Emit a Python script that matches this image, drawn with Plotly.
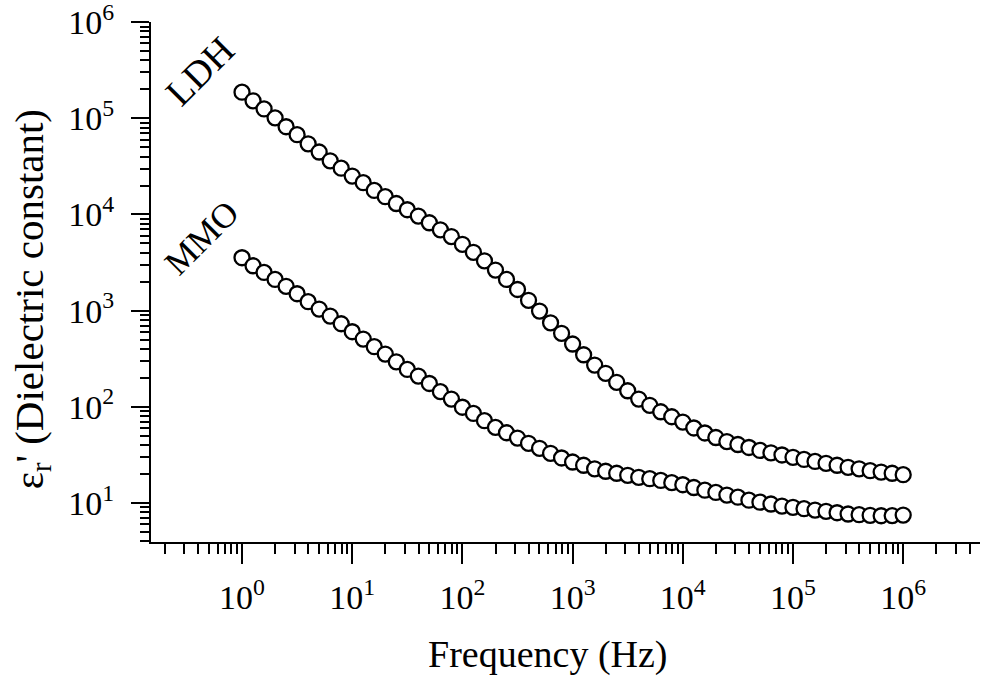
import plotly.graph_objects as go

# Frequency (Hz), 10 points per decade
freq_hz = [
    1.0, 1.259, 1.585, 1.995, 2.512, 3.162, 3.981, 5.012, 6.31, 7.943,
    10.0, 12.59, 15.85, 19.95, 25.12, 31.62, 39.81, 50.12, 63.1, 79.43,
    100.0, 125.9, 158.5, 199.5, 251.2, 316.2, 398.1, 501.2, 631.0, 794.3,
    1000.0, 1259.0, 1585.0, 1995.0, 2512.0, 3162.0, 3981.0, 5012.0, 6310.0, 7943.0,
    10000.0, 12590.0, 15850.0, 19950.0, 25120.0, 31620.0, 39810.0, 50120.0, 63100.0, 79430.0,
    100000.0, 125900.0, 158500.0, 199500.0, 251200.0, 316200.0, 398100.0, 501200.0, 631000.0, 794300.0,
    1000000.0,
]

# Dielectric constant, LDH
ldh_eps = [
    187000, 152000, 125000, 101000, 81700, 67500, 54300, 44600, 36100, 30300,
    25100, 21400, 17800, 15300, 13000, 11200, 9620, 8200, 6930, 5890,
    4890, 4040, 3300, 2640, 2110, 1660, 1280, 991, 748, 581,
    450, 348, 272, 223, 180, 147, 120.5, 103.7, 88.9, 78.9,
    69.5, 60.3, 53.5, 48.0, 43.6, 40.6, 37.8, 35.2, 33.3, 31.6,
    29.9, 28.4, 27.1, 25.9, 24.7, 23.5, 22.7, 21.7, 21.0, 20.4,
    19.7,
]

# Dielectric constant, MMO
mmo_eps = [
    3550, 2930, 2500, 2110, 1790, 1500, 1240, 1040, 879, 731,
    604, 507, 422, 354, 294, 245, 209, 175, 144, 120.5,
    99.1, 85.5, 71.8, 61.2, 53.8, 47.4, 41.8, 37.1, 32.9, 29.4,
    26.7, 24.7, 22.7, 21.4, 20.4, 19.4, 18.5, 17.9, 17.2, 16.3,
    15.5, 14.5, 13.6, 12.9, 12.1, 11.5, 10.7, 10.2, 9.77, 9.31,
    9.02, 8.73, 8.45, 8.20, 7.93, 7.69, 7.57, 7.45, 7.38, 7.40,
    7.50,
]

series_names = ["LDH", "MMO"]

x_major = [1, 10, 100, 1000, 10000, 100000, 1000000]
x_major_text = ["10<sup>0</sup>", "10<sup>1</sup>", "10<sup>2</sup>", "10<sup>3</sup>",
                "10<sup>4</sup>", "10<sup>5</sup>", "10<sup>6</sup>"]
y_major = [10, 100, 1000, 10000, 100000, 1000000]
y_major_text = ["10<sup>1</sup>", "10<sup>2</sup>", "10<sup>3</sup>",
                "10<sup>4</sup>", "10<sup>5</sup>", "10<sup>6</sup>"]

x_minor = [m / 10 for m in range(2, 10)]
for k in range(0, 6):
    x_minor += [m * 10 ** k for m in range(2, 10)]
x_minor += [2e6, 3e6, 4e6]

y_minor = [4, 5, 6, 7, 8, 9]
for k in range(1, 6):
    y_minor += [m * 10 ** k for m in range(2, 10)]

FONT = "Liberation Serif"

fig = go.Figure()
marker = dict(symbol="circle", size=15, color="white", line=dict(color="black", width=2.3))
for name, ys in zip(series_names, [ldh_eps, mmo_eps]):
    fig.add_trace(go.Scatter(x=freq_hz, y=ys, mode="markers", name=name,
                             marker=marker, showlegend=False, cliponaxis=False))

fig.update_layout(
    width=984, height=676,
    margin=dict(l=151, r=4, t=22, b=134, autoexpand=False),
    paper_bgcolor="white", plot_bgcolor="white",
    font=dict(family=FONT, color="black"),
    xaxis=dict(
        type="log", range=[-0.826, 6.697], automargin=False,
        showline=True, linecolor="black", linewidth=2, mirror=False,
        showgrid=False, zeroline=False,
        tickmode="array", tickvals=x_major, ticktext=x_major_text,
        ticks="outside", ticklen=20, tickwidth=2, tickcolor="black",
        tickfont=dict(family=FONT, size=34, color="black"),
        ticklabelstandoff=4, ticklabeloverflow="allow",
        minor=dict(tickmode="array", tickvals=x_minor, ticks="outside",
                   ticklen=10, tickwidth=2, tickcolor="black", showgrid=False),
    ),
    yaxis=dict(
        type="log", range=[0.595, 6.001], automargin=False,
        showline=True, linecolor="black", linewidth=2, mirror=False,
        showgrid=False, zeroline=False,
        tickmode="array", tickvals=y_major, ticktext=y_major_text,
        ticks="outside", ticklen=18, tickwidth=2, tickcolor="black",
        tickfont=dict(family=FONT, size=34, color="black"),
        ticklabelstandoff=10, ticklabeloverflow="allow",
        minor=dict(tickmode="array", tickvals=y_minor, ticks="outside",
                   ticklen=9, tickwidth=2, tickcolor="black", showgrid=False),
    ),
    annotations=[
        dict(text="Frequency (Hz)", xref="paper", yref="paper", x=0.479, y=-0.217,
             xanchor="center", yanchor="middle", showarrow=False,
             font=dict(family=FONT, size=38, color="black")),
        dict(text="ε<sub>r</sub>' (Dielectric constant)", xref="paper", yref="paper",
             x=-0.1435, y=0.467, xanchor="center", yanchor="middle", showarrow=False,
             textangle=-90, font=dict(family=FONT, size=41, color="black")),
        dict(text="LDH", xref="paper", yref="paper", x=0.0591, y=0.905,
             xanchor="center", yanchor="middle", showarrow=False, textangle=-45,
             font=dict(family=FONT, size=38, color="black")),
        dict(text="MMO", xref="paper", yref="paper", x=0.062, y=0.585,
             xanchor="center", yanchor="middle", showarrow=False, textangle=-45,
             font=dict(family=FONT, size=35, color="black")),
    ],
)

fig.write_html("out.html")
